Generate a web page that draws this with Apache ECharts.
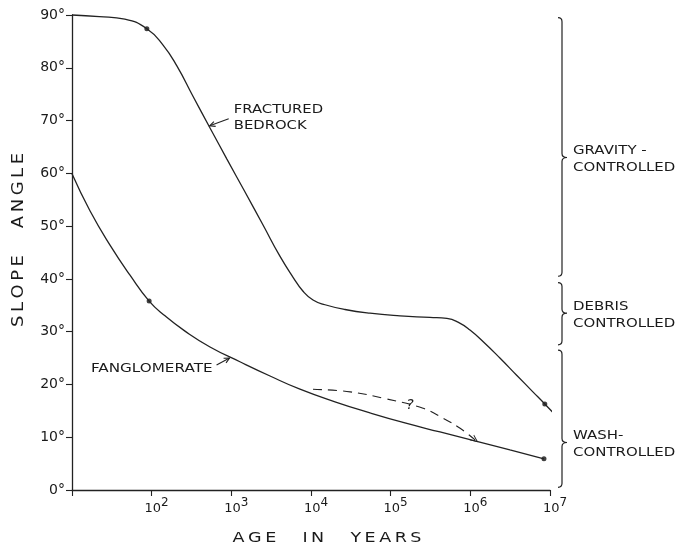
<!DOCTYPE html>
<html><head><meta charset="utf-8">
<script src="https://cdn.jsdelivr.net/npm/echarts@6/dist/echarts.min.js"></script>
<style>html,body{margin:0;padding:0;background:#fff}#c{width:682px;height:549px}</style>
</head><body><div id="c"></div>
<script>
// ---- data (age in years, slope angle in degrees) ----
const fracturedBedrock = [[10,90],[22,89.7],[46,89.2],[87,87.4],[139,84.3],[208,80.3],[330,74.6],[540,68.6],[880,62.7],[1480,56.5],[2500,50.2],[4070,44.3],[5900,40.4],[7900,37.7],[10600,36.0],[15000,35.1],[26700,34.2],[55000,33.5],[131000,33.0],[311000,32.7],[508000,32.5],[700000,31.8],[990000,30.3],[1520000,27.8],[2350000,25.0],[3840000,21.7],[6100000,18.6],[8600000,16.3],[11500000,14.3]];
const fanglomerate = [[10,59.9],[16.8,52.9],[30,46.4],[53.5,40.7],[93,35.8],[147,33.0],[262,30.1],[540,27.1],[1280,24.3],[3060,21.6],[7270,19.1],[20000,16.7],[55000,14.6],[151000,12.7],[416000,11.0],[1140000,9.3],[3140000,7.6],[8400000,5.9]];
const uncertainPath = [[10600,19.1],[31000,18.6],[80400,17.4],[255000,15.5],[455000,13.6],[744000,11.7],[1147000,9.5]];
const bedrockDots = [[87,87.4],[8600000,16.3]];
const fanglomerateDots = [[93,35.8],[8400000,5.9]];
const xTickExponents = [2,3,4,5,6,7];
const yTicks = [0,10,20,30,40,50,60,70,80,90];
const braceTop = [89.5, 39.3, 26.5];
const braceBottom = [40.5, 27.5, 0.5];
const braceTip = [63, 33.5, 9];
const braceLabels = ['GRAVITY -\nCONTROLLED', 'DEBRIS\nCONTROLLED', 'WASH-\nCONTROLLED'];
const curveLabels = ['FRACTURED\nBEDROCK', 'FANGLOMERATE'];
const curveLabelAnchors = [[520,69.0],[950,25.0]];
const xAxisTitle = 'AGE IN YEARS';
const yAxisTitle = 'SLOPE ANGLE';

const INK = '#222';
const FONT = 'DejaVu Sans';
const X_MIN = 10, X_MAX = 1e7;

const chart = echarts.init(document.getElementById('c'), null, {renderer:'canvas'});

function spaced(s){ // widen lettering like the hand-lettered original
  return s.split(' ').map(w => w.split('').join('\u2009')).join('\u2003\u2002');
}

const option = {
  animation: false,
  backgroundColor: '#fff',
  grid: {left: 72, right: 132, top: 15, bottom: 59},
  xAxis: {
    type: 'log', logBase: 10, min: X_MIN, max: X_MAX,
    axisLine: {show: true, onZero: false, lineStyle: {color: INK, width: 1.3}},
    axisTick: {show: true, inside: false, length: 6, lineStyle: {color: INK, width: 1.1}},
    splitLine: {show: false},
    minorTick: {show: false},
    axisLabel: {
      margin: 7, padding: [0,0,0,10], color: '#1a1a1a', fontFamily: FONT,
      formatter: function(v){
        const e = Math.round(Math.log10(v));
        if (xTickExponents.indexOf(e) < 0) return '';
        return '{b|10}{s|' + e + '}';
      },
      rich: {
        b: {fontSize: 13, fontFamily: FONT, color: '#1a1a1a', lineHeight: 18, verticalAlign: 'bottom'},
        s: {fontSize: 12, fontFamily: FONT, color: '#1a1a1a', lineHeight: 12, verticalAlign: 'top'}
      }
    }
  },
  yAxis: {
    type: 'value', min: 0, max: 90, interval: 10,
    axisLine: {show: true, lineStyle: {color: INK, width: 1.3}},
    axisTick: {show: true, inside: false, length: 6, lineStyle: {color: INK, width: 1.1}},
    splitLine: {show: false},
    axisLabel: {
      margin: 7, color: '#1a1a1a', fontSize: 14, fontFamily: FONT,
      formatter: v => (yTicks.indexOf(v) >= 0 ? v + '°' : '')
    }
  },
  series: [
    {type: 'line', name: 'Fractured bedrock', data: fracturedBedrock, smooth: 0.5,
     symbol: 'none', clip: false, lineStyle: {color: INK, width: 1.3}},
    {type: 'line', name: 'Fanglomerate', data: fanglomerate, smooth: 0.5,
     symbol: 'none', clip: false, lineStyle: {color: INK, width: 1.3}},
    {type: 'line', name: 'Uncertain', smooth: 0.4, clip: false,
     symbol: 'none',
     data: uncertainPath.map((p, i) => i === uncertainPath.length - 1
        ? {value: p, symbol: 'path://M0,0L5,10L10,0L8.6,0L5,7.2L1.4,0Z', symbolSize: [7, 8], symbolRotate: 52, symbolKeepAspect: false,
           itemStyle: {color: INK}}
        : {value: p}),
     showSymbol: true,
     itemStyle: {color: INK},
     lineStyle: {color: INK, width: 1.1, type: [9, 6]}},
    {type: 'scatter', data: bedrockDots.concat(fanglomerateDots), symbol: 'circle', symbolSize: 5,
     itemStyle: {color: '#111'}, clip: false},
    {type: 'custom', clip: false,
     data: braceTop.map((t, i) => [X_MAX, t, braceBottom[i], braceTip[i]]),
     encode: {x: 0, y: 1},
     renderItem: function(params, api){
       const i = params.dataIndex;
       const pt = api.coord([api.value(0), api.value(1)]);
       const yb = api.coord([api.value(0), api.value(2)])[1];
       const yt = api.coord([api.value(0), api.value(3)])[1];
       const x = pt[0] + 12, y0 = pt[1], r = 4;
       const d = 'M' + (x - r) + ',' + y0 + ' Q' + x + ',' + y0 + ' ' + x + ',' + (y0 + r) +
                 ' L' + x + ',' + (yt - r) + ' Q' + x + ',' + yt + ' ' + (x + r + 1) + ',' + yt +
                 ' Q' + x + ',' + yt + ' ' + x + ',' + (yt + r) +
                 ' L' + x + ',' + (yb - r) + ' Q' + x + ',' + yb + ' ' + (x - r) + ',' + yb;
       return {type: 'group', children: [
         {type: 'path', shape: {pathData: d}, style: {fill: null, stroke: INK, lineWidth: 1.2}},
         {type: 'text', x: x + r + 7, y: yt + 2, scaleX: 1.15,
          style: {text: braceLabels[i], align: 'left', verticalAlign: 'middle', fill: '#1a1a1a',
                  font: '13px "' + FONT + '"', lineHeight: 17}}
       ]};
     }}
  ]
};
chart.setOption(option);

function arrowEls(x1, y1, x2, y2){
  const a = Math.atan2(y2 - y1, x2 - x1), L = 6, s = 0.45;
  const h1 = [x2 - L * Math.cos(a - s), y2 - L * Math.sin(a - s)];
  const h2 = [x2 - L * Math.cos(a + s), y2 - L * Math.sin(a + s)];
  return [
    {type: 'line', shape: {x1: x1, y1: y1, x2: x2, y2: y2}, style: {stroke: INK, lineWidth: 1.1}},
    {type: 'polyline', shape: {points: [h1, [x2, y2], h2]}, style: {stroke: INK, fill: null, lineWidth: 1.1}}
  ];
}

const tipA = chart.convertToPixel({gridIndex: 0}, curveLabelAnchors[0]);
const tipB = chart.convertToPixel({gridIndex: 0}, curveLabelAnchors[1]);
const qPos = chart.convertToPixel({gridIndex: 0}, uncertainPath[3]);

chart.setOption({
  graphic: [].concat(
    arrowEls(tipA[0] + 20, tipA[1] - 7, tipA[0] + 1, tipA[1]),
    arrowEls(tipB[0] - 13, tipB[1] + 7, tipB[0], tipB[1]),
    [
      {type: 'text', x: tipA[0] + 25, y: tipA[1] - 8, scaleX: 1.14,
       style: {text: curveLabels[0], align: 'left', verticalAlign: 'middle', fill: '#1a1a1a', font: '13px "' + FONT + '"', lineHeight: 16}},
      {type: 'text', x: tipB[0] - 17, y: tipB[1] + 11, scaleX: 1.17,
       style: {text: curveLabels[1], align: 'right', verticalAlign: 'middle', fill: '#1a1a1a', font: '13px "' + FONT + '"'}},
      {type: 'text', x: qPos[0] - 13, y: qPos[1] - 3,
       style: {text: '?', align: 'center', verticalAlign: 'middle', fill: '#1a1a1a', font: 'italic 14px "' + FONT + '"'}},
      {type: 'text', x: 327, y: 538, scaleX: 1.25,
       style: {text: spaced(xAxisTitle), align: 'center', verticalAlign: 'middle', fill: '#1a1a1a', font: '14px "' + FONT + '"'}},
      {type: 'text', x: 19, y: 240, rotation: Math.PI / 2, scaleX: 1.12,
       style: {text: spaced(yAxisTitle), align: 'center', verticalAlign: 'middle', fill: '#1a1a1a', font: '16px "' + FONT + '"'}}
    ]
  )
});
</script></body></html>
